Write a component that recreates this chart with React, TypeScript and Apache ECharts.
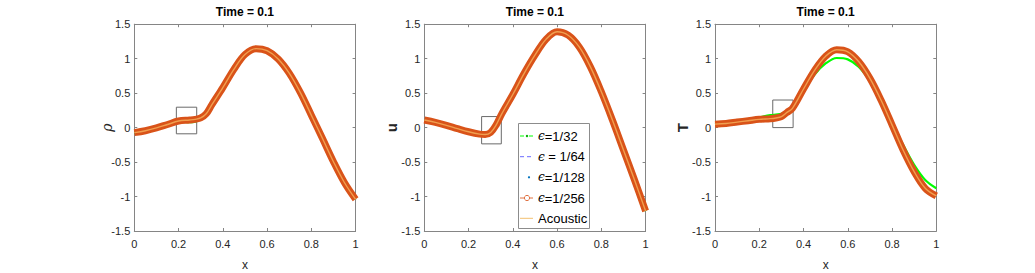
import React, { useEffect, useRef } from "react";
import * as echarts from "echarts";

// x positions of the sampled points (shared by all curves)
const X = [0, 0.05, 0.1, 0.15, 0.2, 0.25, 0.275, 0.3, 0.325, 0.35, 0.4, 0.45, 0.5, 0.55, 0.6, 0.65, 0.7, 0.75, 0.8, 0.85, 0.9, 0.95, 1];

// rho
const rhoEps32 = [-0.073, -0.045, -0.005, 0.045, 0.09, 0.078, 0.085, 0.13, 0.2, 0.33, 0.58, 0.845, 1.06, 1.145, 1.115, 0.995, 0.79, 0.51, 0.18, -0.155, -0.495, -0.8, -1.04];
const rhoEps64 = [-0.073, -0.045, -0.005, 0.045, 0.095, 0.11, 0.12, 0.14, 0.2, 0.33, 0.58, 0.845, 1.06, 1.145, 1.115, 0.995, 0.79, 0.51, 0.18, -0.155, -0.495, -0.8, -1.04];
const rhoEps128 = [-0.073, -0.045, -0.005, 0.045, 0.095, 0.11, 0.12, 0.14, 0.2, 0.33, 0.58, 0.845, 1.06, 1.145, 1.115, 0.995, 0.79, 0.51, 0.18, -0.155, -0.495, -0.8, -1.04];
const rhoEps256 = [-0.073, -0.045, -0.005, 0.045, 0.095, 0.11, 0.12, 0.14, 0.2, 0.33, 0.58, 0.845, 1.06, 1.145, 1.115, 0.995, 0.79, 0.51, 0.18, -0.155, -0.495, -0.8, -1.04];
const rhoAcoustic = [-0.073, -0.045, -0.005, 0.045, 0.095, 0.11, 0.12, 0.14, 0.2, 0.33, 0.58, 0.845, 1.06, 1.145, 1.115, 0.995, 0.79, 0.51, 0.18, -0.155, -0.495, -0.8, -1.04];

// u
const uEps32 = [0.11, 0.076, 0.033, -0.015, -0.06, -0.095, -0.09, -0.04, 0.07, 0.21, 0.48, 0.78, 1.05, 1.28, 1.39, 1.34, 1.17, 0.885, 0.52, 0.11, -0.325, -0.76, -1.21];
const uEps64 = [0.11, 0.076, 0.033, -0.015, -0.06, -0.095, -0.1, -0.07, 0.04, 0.2, 0.48, 0.78, 1.05, 1.28, 1.39, 1.34, 1.17, 0.885, 0.52, 0.11, -0.325, -0.76, -1.21];
const uEps128 = [0.11, 0.076, 0.033, -0.015, -0.06, -0.095, -0.1, -0.07, 0.04, 0.2, 0.48, 0.78, 1.05, 1.28, 1.39, 1.34, 1.17, 0.885, 0.52, 0.11, -0.325, -0.76, -1.21];
const uEps256 = [0.11, 0.076, 0.033, -0.015, -0.06, -0.095, -0.1, -0.07, 0.04, 0.2, 0.48, 0.78, 1.05, 1.28, 1.39, 1.34, 1.17, 0.885, 0.52, 0.11, -0.325, -0.76, -1.21];
const uAcoustic = [0.11, 0.076, 0.033, -0.015, -0.06, -0.095, -0.1, -0.07, 0.04, 0.2, 0.48, 0.78, 1.05, 1.28, 1.39, 1.34, 1.17, 0.885, 0.52, 0.11, -0.325, -0.76, -1.21];

// T
const tEps32 = [0.05, 0.07, 0.09, 0.12, 0.15, 0.18, 0.19, 0.2, 0.245, 0.31, 0.53, 0.77, 0.93, 1.01, 0.99, 0.88, 0.675, 0.4, 0.07, -0.25, -0.54, -0.76, -0.88];
const tEps64 = [0.05, 0.06, 0.08, 0.1, 0.12, 0.13, 0.14, 0.16, 0.22, 0.28, 0.56, 0.82, 1.01, 1.095, 1.075, 0.94, 0.71, 0.4, 0.045, -0.32, -0.63, -0.87, -0.97];
const tEps128 = [0.05, 0.06, 0.08, 0.1, 0.12, 0.13, 0.14, 0.16, 0.22, 0.28, 0.56, 0.83, 1.035, 1.13, 1.1, 0.955, 0.715, 0.4, 0.04, -0.325, -0.64, -0.88, -0.99];
const tEps256 = [0.05, 0.06, 0.08, 0.1, 0.12, 0.13, 0.14, 0.16, 0.22, 0.28, 0.56, 0.83, 1.035, 1.13, 1.1, 0.955, 0.715, 0.4, 0.04, -0.325, -0.64, -0.88, -0.99];
const tAcoustic = [0.05, 0.06, 0.08, 0.1, 0.12, 0.13, 0.14, 0.16, 0.22, 0.28, 0.56, 0.83, 1.035, 1.13, 1.1, 0.955, 0.715, 0.4, 0.04, -0.325, -0.64, -0.88, -0.99];

// zoom boxes [x0, y0, x1, y1]
const boxes = [
  [0.19, -0.09, 0.282, 0.296],
  [0.259, -0.236, 0.348, 0.16],
  [0.261, 0.0, 0.353, 0.4],
];

const panelTitles = ["Time = 0.1", "Time = 0.1", "Time = 0.1"];
const yNames = ["ρ", "u", "T"];
const legendNames = ["{e|ϵ}=1/32", "{e|ϵ} = 1/64", "{e|ϵ}=1/128", "{e|ϵ}=1/256", "Acoustic"];

const panels = [
  [rhoEps32, rhoEps64, rhoEps128, rhoEps256, rhoAcoustic],
  [uEps32, uEps64, uEps128, uEps256, uAcoustic],
  [tEps32, tEps64, tEps128, tEps256, tAcoustic],
];

const GRID_LEFT = [134.3, 424.3, 715];
const GRID_W = 221.3;
const GRID_TOP = 24.2;
const GRID_H = 206.8;
const FONT = "Liberation Sans";
const AXIS_COLOR = "#858585";
const TEXT_COLOR = "#262626";

const pairs = (ys: number[]) => X.map((x, i) => [x, ys[i]]);

export default function App() {
  const ref = useRef<HTMLDivElement>(null);
  useEffect(() => {
    if (!ref.current) return;
    const chart = echarts.init(ref.current, undefined, { renderer: "svg" });

    const grid = GRID_LEFT.map((l) => ({
      left: l,
      top: GRID_TOP,
      width: GRID_W,
      height: GRID_H,
      containLabel: false,
      outerBoundsMode: "none",
    }));

    const xAxis: any[] = [];
    const yAxis: any[] = [];
    for (let i = 0; i < 3; i++) {
      xAxis.push({
        type: "value",
        gridIndex: i,
        min: 0,
        max: 1,
        interval: 0.2,
        position: "bottom",
        name: "x",
        nameLocation: "middle",
        nameGap: 28,
        nameMoveOverlap: false,
        nameTextStyle: { fontFamily: FONT, fontSize: 12, color: TEXT_COLOR },
        axisLine: { show: true, onZero: false, lineStyle: { color: AXIS_COLOR, width: 1 } },
        axisTick: { show: true, inside: true, length: 3, lineStyle: { color: AXIS_COLOR } },
        axisLabel: { show: true, margin: 7, fontFamily: FONT, fontSize: 11, color: TEXT_COLOR },
        splitLine: { show: false },
      });
      yAxis.push({
        type: "value",
        gridIndex: i,
        min: -1.5,
        max: 1.5,
        interval: 0.5,
        position: "left",
        name: yNames[i],
        nameLocation: "middle",
        nameGap: i === 0 ? 20 : 25,
        nameMoveOverlap: false,
        nameTextStyle: {
          fontFamily: i === 0 ? "DejaVu Serif" : FONT,
          fontSize: i === 0 ? 14 : 15,
          fontWeight: i === 0 ? "normal" : "bold",
          fontStyle: i === 0 ? "italic" : "normal",
          color: TEXT_COLOR,
        },
        axisLine: { show: true, onZero: false, lineStyle: { color: AXIS_COLOR, width: 1 } },
        axisTick: { show: true, inside: true, length: 3, lineStyle: { color: AXIS_COLOR } },
        axisLabel: { show: true, margin: 4, fontFamily: FONT, fontSize: 11, color: TEXT_COLOR },
        splitLine: { show: false },
      });
    }
    for (let i = 0; i < 3; i++) {
      xAxis.push({
        type: "value",
        gridIndex: i,
        min: 0,
        max: 1,
        interval: 0.2,
        position: "top",
        axisLine: { show: true, onZero: false, lineStyle: { color: AXIS_COLOR, width: 1 } },
        axisTick: { show: true, inside: true, length: 3, lineStyle: { color: AXIS_COLOR } },
        axisLabel: { show: false },
        splitLine: { show: false },
      });
      yAxis.push({
        type: "value",
        gridIndex: i,
        min: -1.5,
        max: 1.5,
        interval: 0.5,
        position: "right",
        axisLine: { show: true, onZero: false, lineStyle: { color: AXIS_COLOR, width: 1 } },
        axisTick: { show: true, inside: true, length: 3, lineStyle: { color: AXIS_COLOR } },
        axisLabel: { show: false },
        splitLine: { show: false },
      });
    }

    const series: any[] = [];
    panels.forEach((arrs, i) => {
      const base = { type: "line", xAxisIndex: i, yAxisIndex: i, showSymbol: false, symbol: "none", smooth: 0.35, silent: true };
      series.push({ ...base, name: "eps32", data: pairs(arrs[0]), z: 2, lineStyle: { color: "#00ff00", width: 2.2 } });
      series.push({ ...base, name: "eps64", data: pairs(arrs[1]), z: 3, lineStyle: { color: "#5050ff", width: 1, type: [5, 3] } });
      series.push({ ...base, name: "eps128", data: pairs(arrs[2]), z: 4, lineStyle: { color: "#0072bd", width: 1, type: "dotted" } });
      series.push({ ...base, name: "eps256", data: pairs(arrs[3]), z: 5, lineStyle: { color: "#d95319", width: 7 } });
      series.push({
        ...base,
        name: "acoustic",
        data: pairs(arrs[4]),
        z: 6,
        lineStyle: { color: "#f0a050", width: 1.4 },
        markArea: {
          silent: true,
          itemStyle: { color: "rgba(0,0,0,0)", borderColor: "#6a6a6a", borderWidth: 1 },
          data: [[{ coord: [boxes[i][0], boxes[i][1]] }, { coord: [boxes[i][2], boxes[i][3]] }]],
        },
      });
    });

    const graphic: any[] = [];
    panelTitles.forEach((t, i) => {
      graphic.push({
        type: "text",
        x: GRID_LEFT[i] + GRID_W / 2,
        y: 11.5,
        style: {
          text: t,
          fontFamily: FONT,
          fontSize: 12,
          fontWeight: "bold",
          fill: "#000",
          align: "center",
          verticalAlign: "middle",
        },
      });
    });

    // legend
    const LX = 518.5, LY = 123.5, LW = 71, LH = 105;
    const rowY = [136, 156.7, 177.3, 198, 218.3];
    const children: any[] = [
      { type: "rect", shape: { x: LX, y: LY, width: LW, height: LH }, style: { fill: "#fff", stroke: "#8c8c8c", lineWidth: 1 } },
      { type: "line", shape: { x1: 520, y1: rowY[0], x2: 533, y2: rowY[0] }, style: { stroke: "#00ff00", lineWidth: 1, lineDash: [4, 2, 1, 2] } },
      { type: "circle", shape: { cx: 527, cy: rowY[0], r: 1.2 }, style: { fill: "#00b000" } },
      { type: "line", shape: { x1: 520, y1: rowY[1], x2: 533, y2: rowY[1] }, style: { stroke: "#6b6bff", lineWidth: 1, lineDash: [4, 3] } },
      { type: "circle", shape: { cx: 529, cy: rowY[2], r: 1.1 }, style: { fill: "#0072bd" } },
      { type: "line", shape: { x1: 520, y1: rowY[3], x2: 533, y2: rowY[3] }, style: { stroke: "#e07040", lineWidth: 1 } },
      { type: "circle", shape: { cx: 527, cy: rowY[3], r: 2.6 }, style: { fill: "#fff", stroke: "#e07040", lineWidth: 1 } },
      { type: "line", shape: { x1: 520, y1: rowY[4], x2: 533, y2: rowY[4] }, style: { stroke: "#f3c070", lineWidth: 1 } },
    ];
    legendNames.forEach((n, k) => {
      children.push({
        type: "text",
        x: 538,
        y: rowY[k],
        style: {
          text: n,
          fontFamily: FONT,
          fontSize: 13,
          fill: "#000",
          align: "left",
          verticalAlign: "middle",
          rich: { e: { fontFamily: "DejaVu Serif", fontStyle: "italic", fontSize: 12, fill: "#000" } },
        },
      });
    });
    graphic.push({ type: "group", z: 100, children });

    chart.setOption({
      animation: false,
      backgroundColor: "#fff",
      grid,
      xAxis,
      yAxis,
      series,
      graphic,
    });
    return () => chart.dispose();
  }, []);
  return <div ref={ref} style={{ position: "fixed", left: 0, top: 0, width: 1035, height: 273 }} />;
}
